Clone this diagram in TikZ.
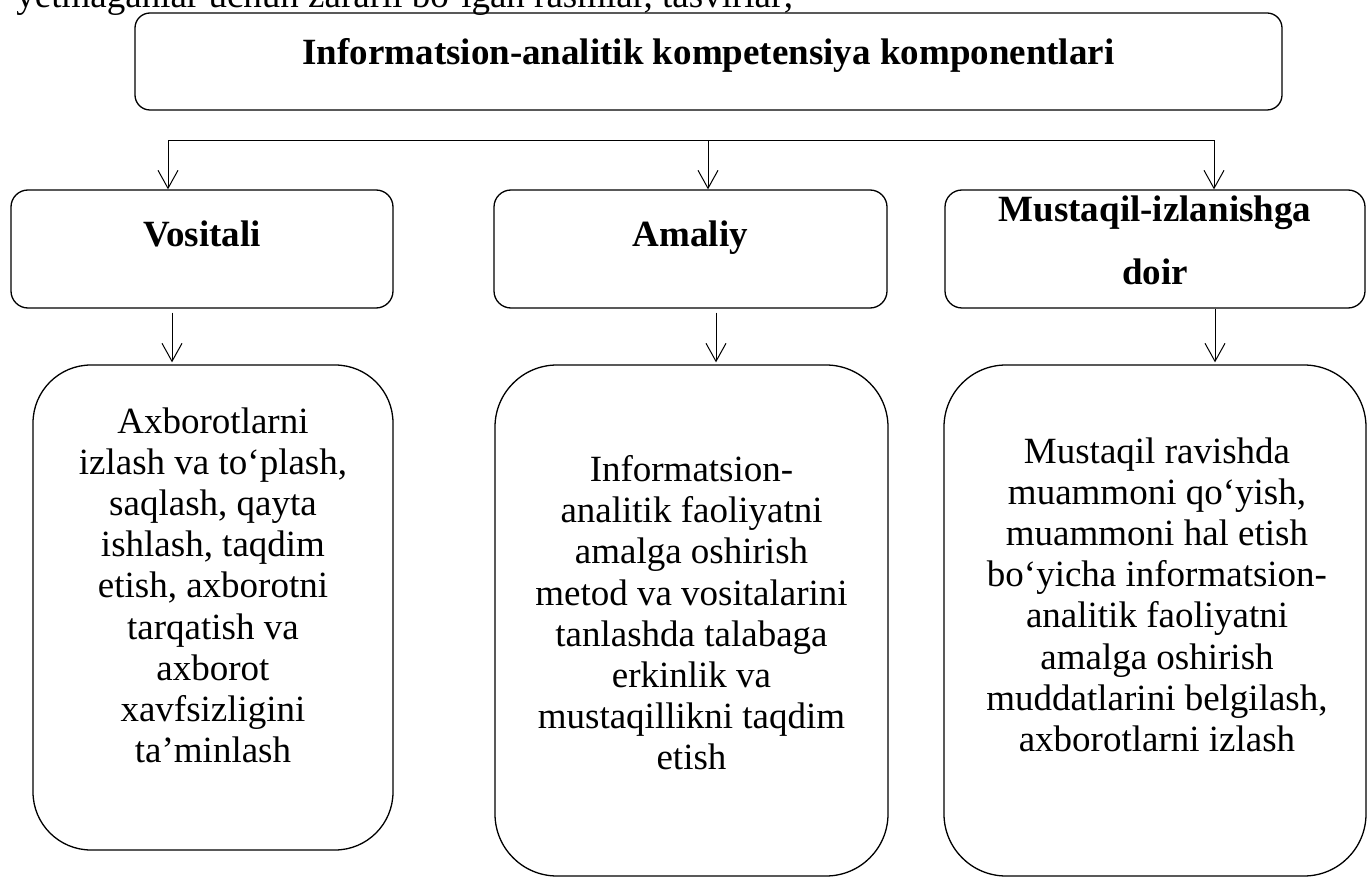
\documentclass[tikz,border=0pt]{standalone}
\usepackage{fontspec}
\setmainfont{Liberation Serif}
\usetikzlibrary{arrows.meta}
\begin{document}
\begin{tikzpicture}[x=0.5pt,y=-0.5pt,
  box/.style={draw, line width=0.65pt, inner sep=0pt, rectangle},
  txt/.style={inner sep=0pt, align=center, font=\fontsize{18.5}{20.6}\selectfont},
  hd/.style={inner sep=0pt, align=center, font=\fontsize{18.5}{31.5}\selectfont\bfseries},
  tip/.tip={Straight Barb[length=9pt,width=10pt]},
  arr/.style={line width=0.5pt, -tip},
  link/.style={line width=0.5pt}]
\useasboundingbox (0,0) rectangle (1367,877);

% cut-off line of the page above
\node[anchor=base west, inner sep=0pt, font=\fontsize{18.5}{20.6}\selectfont] (cut) at (16,8) {yetmaganlar uchun zararli bo‘lgan rasmlar, tasvirlar;};

% boxes
\node[box, rounded corners=7.5pt, minimum width=573.5pt, minimum height=48.5pt] (top) at (708.5,61.5) {};
\node[box, rounded corners=8.5pt, minimum width=191pt, minimum height=59pt] (vos) at (202,249) {};
\node[box, rounded corners=8.5pt, minimum width=196.5pt, minimum height=59pt] (ama) at (690.5,249) {};
\node[box, rounded corners=8.5pt, minimum width=210pt, minimum height=59pt] (mus) at (1155,249) {};
\node[box, rounded corners=29pt, minimum width=180pt, minimum height=242.5pt] (lowl) at (213,607.5) {};
\node[box, rounded corners=31pt, minimum width=196.5pt, minimum height=255.5pt] (lowm) at (691.5,620.5) {};
\node[box, rounded corners=31pt, minimum width=211pt, minimum height=255.5pt] (lowr) at (1155,620.5) {};

% texts
\node[txt, anchor=north] (topt) at (708.5,38) {\bfseries Informatsion-analitik kompetensiya komponentlari};
\node[hd, anchor=north] (vost) at (202,220) {Vositali};
\node[hd, anchor=north] (amat) at (690.5,220) {Amaliy};
\node[hd, anchor=north] (must) at (1155,195) {Mustaqil-izlanishga\\doir};
\node[txt, anchor=north] (lowlt) at (213,407) {Axborotlarni\\izlash va to‘plash,\\saqlash, qayta\\ishlash, taqdim\\etish, axborotni\\tarqatish va\\axborot\\xavfsizligini\\ta’minlash};
\node[txt, anchor=north] (lowmt) at (691.5,455) {Informatsion-\\analitik faoliyatni\\amalga oshirish\\metod va vositalarini\\tanlashda talabaga\\erkinlik va\\mustaqillikni taqdim\\etish};
\node[txt, anchor=north] (lowrt) at (1157,437) {Mustaqil ravishda\\muammoni qo‘yish,\\muammoni hal etish\\bo‘yicha informatsion-\\analitik faoliyatni\\amalga oshirish\\muddatlarini belgilash,\\axborotlarni izlash};

% connectors
\coordinate (bl) at (168,141);
\coordinate (bm) at (708,141);
\coordinate (br) at (1214,141);
\coordinate (xl) at (172,0);
\coordinate (xm) at (716,0);
\coordinate (xr) at (1215,0);
\draw[line width=0.5pt, tip-tip] (vos.north -| bl) -- (bl) -- (br) -- (mus.north -| br);
\draw[arr] (bm) -- (ama.north -| bm);
\draw[arr, shorten <=2pt, shorten >=1pt] (vos.south -| xl) -- (lowl.north -| xl);
\draw[arr, shorten <=2pt, shorten >=1pt] (ama.south -| xm) -- (lowm.north -| xm);
\draw[arr, shorten <=0pt, shorten >=1pt] (mus.south -| xr) -- (lowr.north -| xr);
\end{tikzpicture}
\end{document}
